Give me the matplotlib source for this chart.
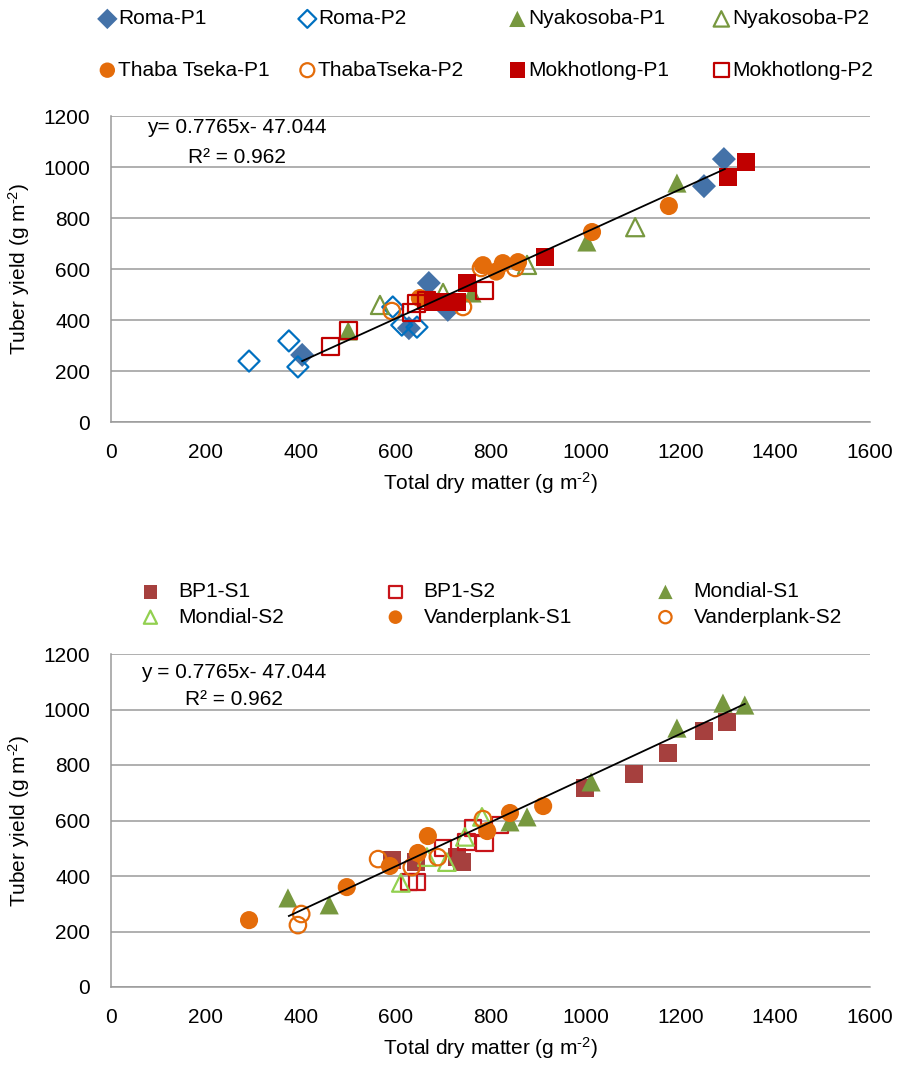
import matplotlib
matplotlib.use("Agg")
import matplotlib.pyplot as plt

plt.rcParams['font.family'] = ['Liberation Sans', 'DejaVu Sans']
plt.rcParams['mathtext.fontset'] = 'custom'
plt.rcParams['mathtext.rm'] = 'Liberation Sans'
plt.rcParams['mathtext.it'] = 'Liberation Sans'
plt.rcParams['font.size'] = 15

# Panel 1: by site
roma_p1_x = [1292, 1250, 403, 628, 670, 710]
roma_p1_y = [1031, 925, 263, 368, 545, 440]
roma_p2_x = [291, 375, 394, 594, 613, 645]
roma_p2_y = [239, 318, 216, 451, 380, 372]
nyak_p1_x = [500, 1003, 1193, 761]
nyak_p1_y = [357, 706, 937, 506]
nyak_p2_x = [567, 700, 1105, 877]
nyak_p2_y = [459, 506, 764, 616]
thaba_p1_x = [651, 784, 812, 826, 858, 1014, 1176]
thaba_p1_y = [486, 615, 590, 623, 627, 745, 847]
thaba_p2_x = [592, 742, 780, 852]
thaba_p2_y = [435, 451, 604, 604]
mokh_p1_x = [1338, 1300, 915, 750, 679, 705, 729]
mokh_p1_y = [1019, 960, 647, 545, 470, 470, 470]
mokh_p2_x = [462, 500, 634, 645, 666, 788]
mokh_p2_y = [298, 357, 431, 466, 478, 517]
trend1_x = [403, 1294]
trend1_y = [239, 992]

# Panel 2: by cultivar / season
bp1_s1_x = [999, 1102, 1174, 1250, 1298, 592, 643, 729, 740]
bp1_s1_y = [717, 768, 843, 923, 955, 458, 450, 468, 450]
bp1_s2_x = [628, 645, 700, 750, 763, 788, 820]
bp1_s2_y = [378, 378, 501, 523, 573, 519, 584]
mon_s1_x = [373, 460, 841, 877, 1012, 1193, 1290, 1336]
mon_s1_y = [321, 296, 595, 613, 739, 933, 1023, 1016]
mon_s2_x = [611, 666, 708, 746, 782]
mon_s2_y = [375, 468, 450, 541, 613]
van_s1_x = [291, 497, 588, 647, 668, 793, 841, 911]
van_s1_y = [241, 360, 436, 483, 544, 562, 627, 652]
van_s2_x = [394, 401, 563, 634, 689, 784]
van_s2_y = [223, 263, 461, 432, 468, 605]
trend2_x = [375, 1336]
trend2_y = [256, 1020]

eq_text = "0.7765x- 47.044"
r2_text = "R² = 0.962"

fig = plt.figure(figsize=(9.05, 10.66), dpi=100)
ax1 = fig.add_axes([111/905, 1-422/1066, 759/905, 306/1066])
ax2 = fig.add_axes([111/905, 1-987/1066, 759/905, 333/1066])

def style(ax):
    ax.set_xlim(0, 1600)
    ax.set_ylim(0, 1200)
    ax.set_xticks(range(0, 1601, 200))
    ax.set_yticks(range(0, 1201, 200))
    ax.grid(axis='y', color='#9a9a9a', lw=1.1)
    ax.set_axisbelow(True)
    for s in ['top', 'right']:
        ax.spines[s].set_visible(False)
    for s in ['left', 'bottom']:
        ax.spines[s].set_color('#9a9a9a')
        ax.spines[s].set_linewidth(1.1)
    ax.tick_params(length=0, pad=15)
    ax.set_xlabel(r"Total dry matter (g m$^{\text{-2}}$)", labelpad=6)
    ax.set_ylabel(r"Tuber yield (g m$^{\text{-2}}$)", labelpad=8)

style(ax1)
style(ax2)

def filled(ax, x, y, m, c, s, lab):
    return ax.scatter(x, y, marker=m, s=s, color=c, edgecolors='none', label=lab, zorder=3)

def hollow(ax, x, y, m, c, s, lab):
    return ax.scatter(x, y, marker=m, s=s, facecolors='none', edgecolors=c, linewidths=1.6, label=lab, zorder=3)

blue = '#4472A8'
blue2 = '#0070C0'
green = '#77983F'
orange = '#E46C0A'
red = '#C00000'

h = []
h.append(filled(ax1, roma_p1_x, roma_p1_y, 'D', blue, 150, 'Roma-P1'))
h.append(hollow(ax1, roma_p2_x, roma_p2_y, 'D', blue2, 115, 'Roma-P2'))
h.append(filled(ax1, nyak_p1_x, nyak_p1_y, '^', green, 190, 'Nyakosoba-P1'))
h.append(hollow(ax1, nyak_p2_x, nyak_p2_y, '^', green, 170, 'Nyakosoba-P2'))
h.append(filled(ax1, thaba_p1_x, thaba_p1_y, 'o', orange, 170, 'Thaba Tseka-P1'))
h.append(hollow(ax1, thaba_p2_x, thaba_p2_y, 'o', orange, 140, 'ThabaTseka-P2'))
h.append(filled(ax1, mokh_p1_x, mokh_p1_y, 's', red, 175, 'Mokhotlong-P1'))
h.append(hollow(ax1, mokh_p2_x, mokh_p2_y, 's', red, 150, 'Mokhotlong-P2'))
ax1.plot(trend1_x, trend1_y, color='black', lw=1.3, zorder=4)
ax1.text(0.166, 0.964, "y= " + eq_text, transform=ax1.transAxes, ha='center', va='center')
ax1.text(0.166, 0.866, r2_text, transform=ax1.transAxes, ha='center', va='center')

col_x1 = [99, 299, 509, 713]
for i in range(4):
    fig.legend(handles=[h[i], h[i + 4]], loc='center left',
               bbox_to_anchor=(col_x1[i]/905, 1-44.5/1066), frameon=False,
               borderpad=0, borderaxespad=0, handlelength=0.8, handletextpad=0.1,
               labelspacing=1.55, markerscale=0.85, scatterpoints=1)

g = []
g.append(filled(ax2, bp1_s1_x, bp1_s1_y, 's', '#A6403E', 165, 'BP1-S1'))
g.append(hollow(ax2, bp1_s2_x, bp1_s2_y, 's', '#C8141A', 145, 'BP1-S2'))
g.append(filled(ax2, mon_s1_x, mon_s1_y, '^', green, 190, 'Mondial-S1'))
g.append(hollow(ax2, mon_s2_x, mon_s2_y, '^', '#92D050', 160, 'Mondial-S2'))
g.append(filled(ax2, van_s1_x, van_s1_y, 'o', orange, 170, 'Vanderplank-S1'))
g.append(hollow(ax2, van_s2_x, van_s2_y, 'o', orange, 140, 'Vanderplank-S2'))
ax2.plot(trend2_x, trend2_y, color='black', lw=1.3, zorder=4)
ax2.text(0.162, 0.943, "y = " + eq_text, transform=ax2.transAxes, ha='center', va='center')
ax2.text(0.162, 0.862, r2_text, transform=ax2.transAxes, ha='center', va='center')

col_x2 = [140, 385, 655]
for i in range(3):
    fig.legend(handles=[g[i], g[i + 3]], loc='center left',
               bbox_to_anchor=(col_x2[i]/905, 1-604.5/1066), frameon=False,
               borderpad=0, borderaxespad=0, handlelength=1.0, handletextpad=0.85,
               labelspacing=0.3, markerscale=0.75, scatterpoints=1)

fig.savefig("out.png", dpi=100)
